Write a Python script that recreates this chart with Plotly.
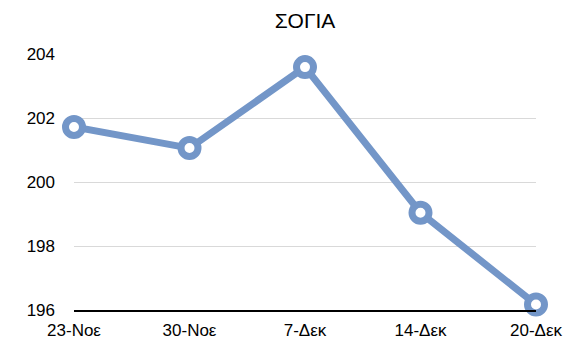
import plotly.graph_objects as go

categories = ["23-Νοε", "30-Νοε", "7-Δεκ", "14-Δεκ", "20-Δεκ"]
values = [201.72, 201.06, 203.59, 199.04, 196.17]
y_ticks = [196, 198, 200, 202, 204]

blue = "#7396C8"
font_family = "Liberation Sans, Arial, Helvetica, sans-serif"

# the page body has an 8px margin, so the figure is sized and offset to fit
W, H = 580, 352

fig = go.Figure()
fig.add_trace(go.Scatter(
    x=categories,
    y=values,
    mode="lines+markers",
    line=dict(color=blue, width=7),
    marker=dict(size=17, color="white", line=dict(color=blue, width=7)),
    cliponaxis=False,
))

fig.update_layout(
    width=W,
    height=H,
    margin=dict(l=66, r=52, t=46, b=50),
    paper_bgcolor="white",
    plot_bgcolor="white",
    showlegend=False,
    font=dict(family=font_family, size=17, color="black"),
    title=dict(
        text="ΣΟΓΙΑ",
        x=0.5,
        xref="paper",
        xanchor="center",
        y=1 - 12.5 / H,
        yref="container",
        yanchor="middle",
        font=dict(family=font_family, size=21, color="black"),
    ),
    xaxis=dict(
        type="category",
        range=[0, 4],
        showgrid=False,
        showline=True,
        linecolor="black",
        linewidth=1.5,
        ticks="",
        ticklabelstandoff=4,
        tickfont=dict(size=17),
        zeroline=False,
    ),
    yaxis=dict(
        range=[196, 204],
        tickvals=y_ticks,
        ticktext=[str(v) for v in y_ticks],
        showgrid=True,
        gridcolor="#d9d9d9",
        gridwidth=1,
        showline=False,
        zeroline=False,
        ticks="",
        ticklabelstandoff=18,
        tickfont=dict(size=17),
    ),
)

fig.write_html("out.html")
